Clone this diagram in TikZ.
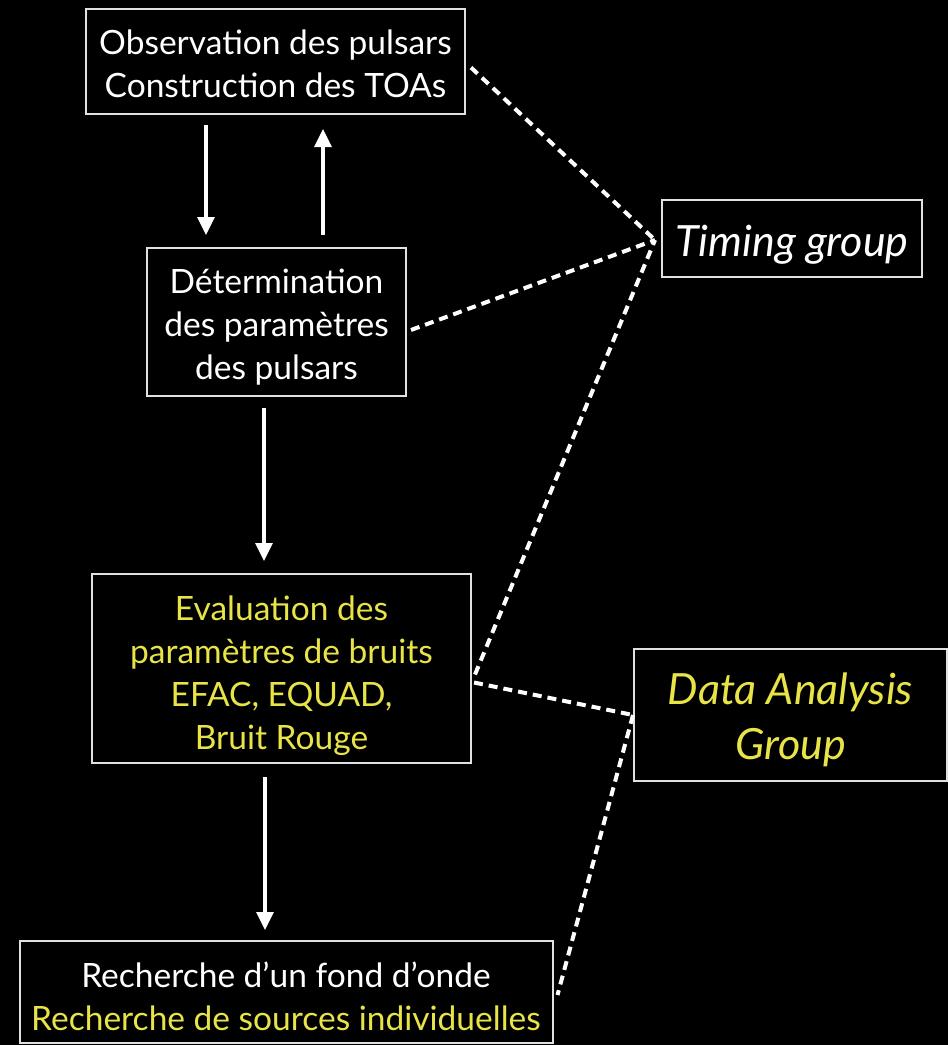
\documentclass[tikz,border=0pt]{standalone}
\usepackage{fontspec}
\setmainfont{Lato}
\usetikzlibrary{arrows.meta,calc}
\definecolor{yel}{RGB}{232,228,72}
\definecolor{boxline}{RGB}{225,225,225}
\tikzset{
  box/.style={draw=boxline,line width=2pt,fill=black,align=center,inner sep=0pt,text=white,
    font=\fontsize{33.5}{43}\selectfont,text depth=8pt},
  grp/.style={draw=boxline,line width=2pt,fill=black,align=center,inner sep=0pt,
    font=\fontsize{43}{55}\selectfont\itshape},
  arr/.style={draw=white,line width=3.2pt,-{Triangle[length=18pt,width=17pt]}},
  dsh/.style={draw=white,line width=4pt,dash pattern=on 9pt off 6pt}
}
\begin{document}
\begin{tikzpicture}[x=1pt,y=-1pt]
\fill[black] (0,0) rectangle (948,1045);
\useasboundingbox (0,0) rectangle (948,1045);
\node[box,text height=79pt,minimum width=379pt,minimum height=105pt] (obs) at (275.5,61.5)
  {Observation des pulsars\\Construction des TOAs};
\node[box,text height=123pt,minimum width=259pt,minimum height=148pt] (det) at (276.5,322)
  {Détermination\\des paramètres\\des pulsars};
\node[box,text height=170pt,text=yel,minimum width=379pt,minimum height=189pt] (eval) at (281.5,668.5)
  {Evaluation des\\paramètres de bruits\\EFAC, EQUAD,\\Bruit Rouge};
\node[box,text height=84pt,minimum width=533pt,minimum height=102pt] (rech) at (286,992)
  {Recherche d’un fond d’onde\\\textcolor{yel}{Recherche de sources individuelles}};
\node[grp,text height=43pt,text=white,minimum width=260pt,minimum height=77pt] (timing) at (792,238.5)
  {Timing group};
\node[grp,text height=97pt,text=yel,minimum width=313pt,minimum height=132pt] (da) at (790.5,715)
  {Data Analysis\\Group};
\coordinate (tg) at ([xshift=-6pt,yshift=-1.5pt]timing.west);
% dashed links
\draw[dsh] ([shift={(5,6)}]obs.east) -- (tg);
\draw[dsh] ([shift={(4,8)}]det.east) -- (tg);
\draw[dsh] ([shift={(3,6)}]eval.east) -- (tg);
\draw[dsh] ([shift={(2,14)}]eval.east) -- (da.west);
\draw[dsh] (da.west) -- ([shift={(4,3)}]rech.east);
% arrows
\draw[arr] ([shift={(-69.5,10)}]obs.south) -- ([shift={(-70.5,-12)}]det.north);
\draw[arr] ([shift={(46.5,-12)}]det.north) -- ([shift={(47.5,14)}]obs.south);
\draw[arr] ([shift={(-12.5,11)}]det.south) -- ([shift={(-17.5,-12)}]eval.north);
\draw[arr] ([shift={(-16.5,13)}]eval.south) -- ([shift={(-21,-10)}]rech.north);
\end{tikzpicture}
\end{document}
